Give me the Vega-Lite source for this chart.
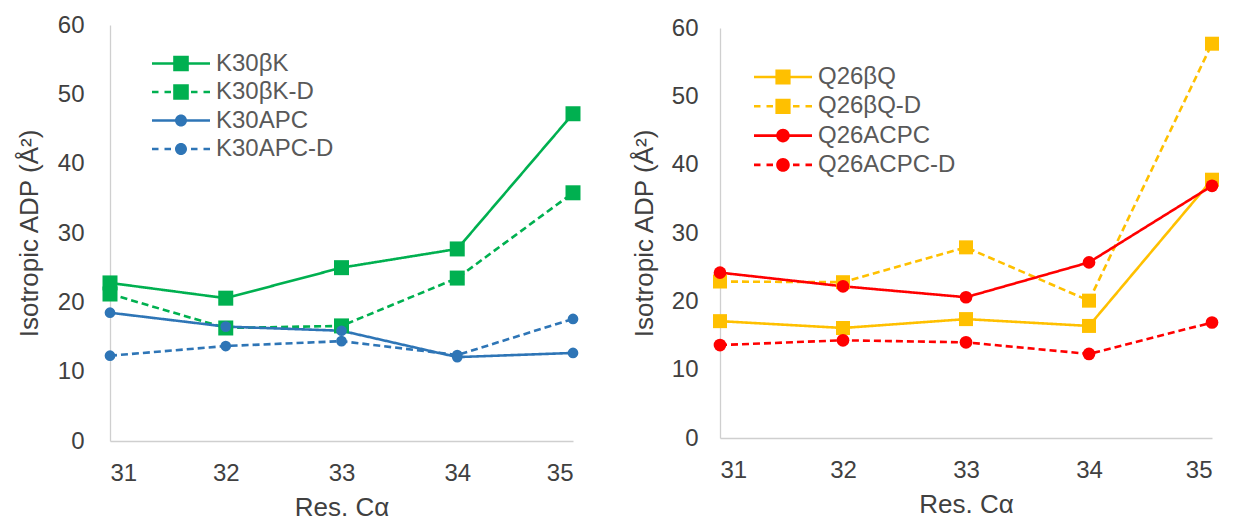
{
  "$schema": "https://vega.github.io/schema/vega-lite/v6.json",
  "background": "white",
  "padding": {"left": 16, "top": 13, "right": 0, "bottom": 0},
  "config": {
    "font": "Liberation Sans",
    "view": {"stroke": null},
    "axis": {"grid": false, "ticks": false, "tickSize": 0, "domainColor": "#CFCFCF", "domainWidth": 1.3, "labelFont": "Liberation Sans", "labelFontSize": 24, "labelColor": "#404040", "titleFont": "Liberation Sans", "titleFontSize": 26, "titleFontWeight": "normal", "titleColor": "#404040"},
    "legend": {"labelFont": "Liberation Sans", "labelFontSize": 24, "labelColor": "#595959", "padding": 0}
  },
  "datasets": {
    "left": [
      {"res": 31, "series": "K30βK", "adp": 22.8}, {"res": 32, "series": "K30βK", "adp": 20.6}, {"res": 33, "series": "K30βK", "adp": 25.0}, {"res": 34, "series": "K30βK", "adp": 27.7}, {"res": 35, "series": "K30βK", "adp": 47.2},
      {"res": 31, "series": "K30βK-D", "adp": 21.2}, {"res": 32, "series": "K30βK-D", "adp": 16.3}, {"res": 33, "series": "K30βK-D", "adp": 16.6}, {"res": 34, "series": "K30βK-D", "adp": 23.5}, {"res": 35, "series": "K30βK-D", "adp": 35.8},
      {"res": 31, "series": "K30APC", "adp": 18.5}, {"res": 32, "series": "K30APC", "adp": 16.5}, {"res": 33, "series": "K30APC", "adp": 15.9}, {"res": 34, "series": "K30APC", "adp": 12.1}, {"res": 35, "series": "K30APC", "adp": 12.7},
      {"res": 31, "series": "K30APC-D", "adp": 12.3}, {"res": 32, "series": "K30APC-D", "adp": 13.7}, {"res": 33, "series": "K30APC-D", "adp": 14.4}, {"res": 34, "series": "K30APC-D", "adp": 12.4}, {"res": 35, "series": "K30APC-D", "adp": 17.6}
    ],
    "right": [
      {"res": 31, "series": "Q26βQ", "adp": 17.1}, {"res": 32, "series": "Q26βQ", "adp": 16.1}, {"res": 33, "series": "Q26βQ", "adp": 17.4}, {"res": 34, "series": "Q26βQ", "adp": 16.4}, {"res": 35, "series": "Q26βQ", "adp": 37.8},
      {"res": 31, "series": "Q26βQ-D", "adp": 22.9}, {"res": 32, "series": "Q26βQ-D", "adp": 22.8}, {"res": 33, "series": "Q26βQ-D", "adp": 27.9}, {"res": 34, "series": "Q26βQ-D", "adp": 20.1}, {"res": 35, "series": "Q26βQ-D", "adp": 57.7},
      {"res": 31, "series": "Q26ACPC", "adp": 24.2}, {"res": 32, "series": "Q26ACPC", "adp": 22.2}, {"res": 33, "series": "Q26ACPC", "adp": 20.6}, {"res": 34, "series": "Q26ACPC", "adp": 25.7}, {"res": 35, "series": "Q26ACPC", "adp": 36.9},
      {"res": 31, "series": "Q26ACPC-D", "adp": 13.6}, {"res": 32, "series": "Q26ACPC-D", "adp": 14.3}, {"res": 33, "series": "Q26ACPC-D", "adp": 14.0}, {"res": 34, "series": "Q26ACPC-D", "adp": 12.3}, {"res": 35, "series": "Q26ACPC-D", "adp": 16.9}
    ]
  },
  "spacing": 50,
  "center": true,
  "hconcat": [
    {
      "width": 463,
      "height": 416,
      "data": {"name": "left"},
      "encoding": {
        "x": {"field": "res", "type": "quantitative", "title": "Res. Cα", "scale": {"domain": [31, 35], "nice": false, "zero": false}, "axis": {"values": [31, 32, 33, 34, 35], "format": "d", "labelPadding": 20, "titlePadding": 9}},
        "y": {"field": "adp", "type": "quantitative", "title": "Isotropic ADP (Å²)", "scale": {"domain": [0, 60], "nice": false}, "axis": {"values": [0, 10, 20, 30, 40, 50, 60], "labelPadding": 26, "titlePadding": 15}},
        "color": {"field": "series", "type": "nominal", "title": null, "scale": {"domain": ["K30βK", "K30βK-D", "K30APC", "K30APC-D"], "range": ["#00B050", "#00B050", "#2E75B6", "#2E75B6"]}, "legend": {"orient": "none", "legendX": 59, "legendY": 26.5, "symbolSize": 400, "symbolStrokeWidth": 0, "labelOffset": 23, "rowPadding": 4.5}}
      },
      "layer": [
        {"transform": [{"filter": "datum.adp < 0"}],
         "mark": {"type": "point", "filled": true, "opacity": 1},
         "encoding": {"shape": {"field": "series", "type": "nominal", "title": null, "scale": {"domain": ["K30βK", "K30βK-D", "K30APC", "K30APC-D"], "range": [
           "M-2.9,-0.13H2.9V0.13H-2.9ZM-0.78,-0.78H0.78V0.78H-0.78Z",
           "M-2.9,-0.13H-2.25V0.13H-2.9ZM-1.65,-0.13H-1.0V0.13H-1.65ZM1.0,-0.13H1.65V0.13H1.0ZM2.25,-0.13H2.9V0.13H2.25ZM-0.78,-0.78H0.78V0.78H-0.78Z",
           "M-2.9,-0.13H2.9V0.13H-2.9ZM-0.6,0A0.6,0.6,0,1,1,0.6,0A0.6,0.6,0,1,1,-0.6,0Z",
           "M-2.9,-0.13H-2.25V0.13H-2.9ZM-1.65,-0.13H-1.0V0.13H-1.65ZM1.0,-0.13H1.65V0.13H1.0ZM2.25,-0.13H2.9V0.13H2.25ZM-0.6,0A0.6,0.6,0,1,1,0.6,0A0.6,0.6,0,1,1,-0.6,0Z"]}}}},
        {"mark": {"type": "line", "strokeWidth": 2.6},
         "encoding": {"strokeDash": {"field": "series", "type": "nominal", "title": null, "legend": null, "scale": {"domain": ["K30βK", "K30βK-D", "K30APC", "K30APC-D"], "range": [[1, 0], [7, 4], [1, 0], [7, 4]]}}}},
        {"transform": [{"filter": {"field": "series", "oneOf": ["K30βK", "K30βK-D"]}}],
         "mark": {"type": "point", "shape": "square", "filled": true, "opacity": 1, "size": 225}},
        {"transform": [{"filter": {"field": "series", "oneOf": ["K30APC", "K30APC-D"]}}],
         "mark": {"type": "point", "shape": "circle", "filled": true, "opacity": 1, "size": 115}}
      ]
    },
    {
      "width": 492,
      "height": 410,
      "data": {"name": "right"},
      "encoding": {
        "x": {"field": "res", "type": "quantitative", "title": "Res. Cα", "scale": {"domain": [31, 35], "nice": false, "zero": false}, "axis": {"values": [31, 32, 33, 34, 35], "format": "d", "labelPadding": 20, "titlePadding": 9}},
        "y": {"field": "adp", "type": "quantitative", "title": "Isotropic ADP (Å²)", "scale": {"domain": [0, 60], "nice": false}, "axis": {"values": [0, 10, 20, 30, 40, 50, 60], "labelPadding": 22, "titlePadding": 14}},
        "color": {"field": "series", "type": "nominal", "title": null, "scale": {"domain": ["Q26βQ", "Q26βQ-D", "Q26ACPC", "Q26ACPC-D"], "range": ["#FFC000", "#FFC000", "#FF0000", "#FF0000"]}, "legend": {"orient": "none", "legendX": 51, "legendY": 37, "symbolSize": 400, "symbolStrokeWidth": 0, "labelOffset": 23, "rowPadding": 5.3}}
      },
      "layer": [
        {"transform": [{"filter": "datum.adp < 0"}],
         "mark": {"type": "point", "filled": true, "opacity": 1},
         "encoding": {"shape": {"field": "series", "type": "nominal", "title": null, "scale": {"domain": ["Q26βQ", "Q26βQ-D", "Q26ACPC", "Q26ACPC-D"], "range": [
           "M-2.9,-0.13H2.9V0.13H-2.9ZM-0.76,-0.76H0.76V0.76H-0.76Z",
           "M-2.9,-0.13H-2.25V0.13H-2.9ZM-1.65,-0.13H-1.0V0.13H-1.65ZM1.0,-0.13H1.65V0.13H1.0ZM2.25,-0.13H2.9V0.13H2.25ZM-0.76,-0.76H0.76V0.76H-0.76Z",
           "M-2.9,-0.13H2.9V0.13H-2.9ZM-0.68,0A0.68,0.68,0,1,1,0.68,0A0.68,0.68,0,1,1,-0.68,0Z",
           "M-2.9,-0.13H-2.25V0.13H-2.9ZM-1.65,-0.13H-1.0V0.13H-1.65ZM1.0,-0.13H1.65V0.13H1.0ZM2.25,-0.13H2.9V0.13H2.25ZM-0.68,0A0.68,0.68,0,1,1,0.68,0A0.68,0.68,0,1,1,-0.68,0Z"]}}}},
        {"mark": {"type": "line", "strokeWidth": 2.6},
         "encoding": {"strokeDash": {"field": "series", "type": "nominal", "title": null, "legend": null, "scale": {"domain": ["Q26βQ", "Q26βQ-D", "Q26ACPC", "Q26ACPC-D"], "range": [[1, 0], [7, 4], [1, 0], [7, 4]]}}}},
        {"transform": [{"filter": {"field": "series", "oneOf": ["Q26βQ", "Q26βQ-D"]}}],
         "mark": {"type": "point", "shape": "square", "filled": true, "opacity": 1, "size": 196}},
        {"transform": [{"filter": {"field": "series", "oneOf": ["Q26ACPC", "Q26ACPC-D"]}}],
         "mark": {"type": "point", "shape": "circle", "filled": true, "opacity": 1, "size": 161}}
      ]
    }
  ],
  "resolve": {"scale": {"color": "independent", "strokeDash": "independent", "shape": "independent"}}
}
